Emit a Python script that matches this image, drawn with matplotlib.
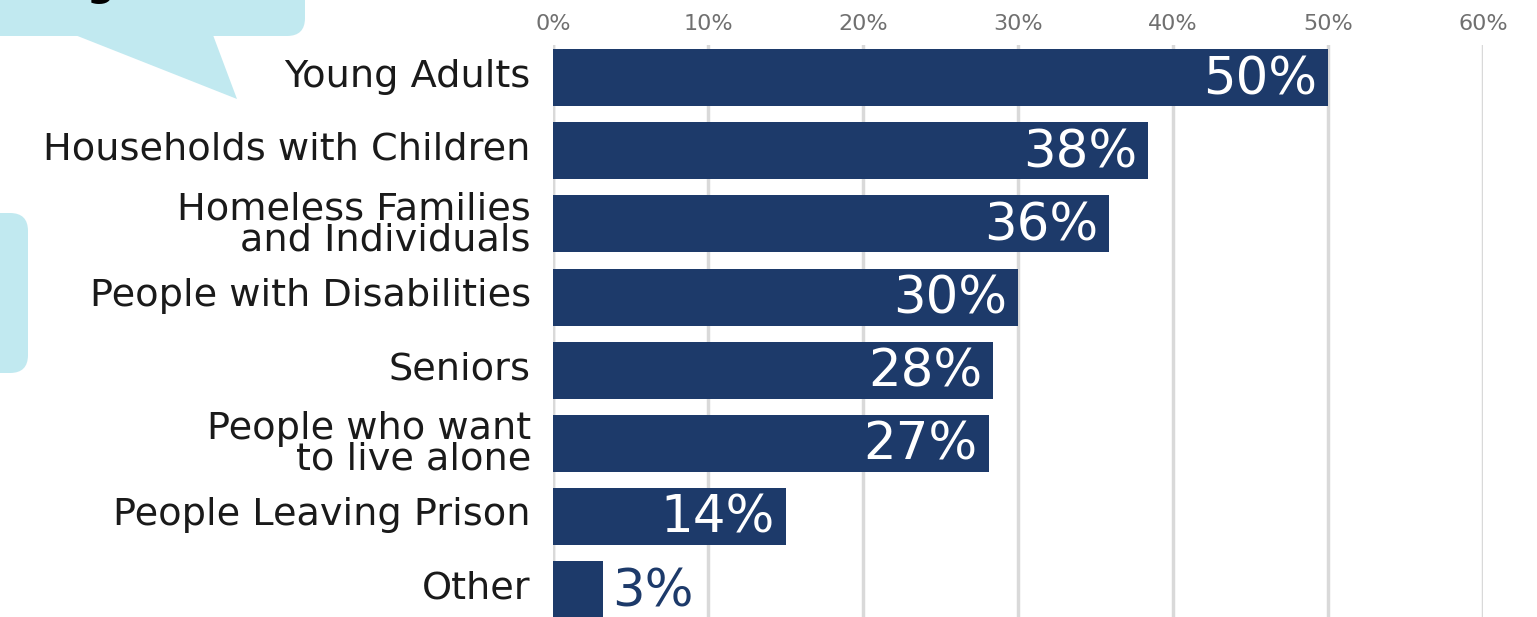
import matplotlib.pyplot as plt
import matplotlib.transforms as mtransforms
from matplotlib.patches import FancyBboxPatch, Polygon

plt.rcParams['font.family'] = ['DejaVu Sans']

categories = ['Young Adults', 'Households with Children', 'Homeless Families\nand Individuals',
              'People with Disabilities', 'Seniors', 'People who want\nto live alone',
              'People Leaving Prison', 'Other']
values = [50.0, 38.4, 35.9, 30.0, 28.4, 28.1, 15.0, 3.2]
value_labels = ['50%', '38%', '36%', '30%', '28%', '27%', '14%', '3%']
ticks = [0, 10, 20, 30, 40, 50, 60]

navy = '#1d3a6a'
bubble = '#c1e9f0'

fig = plt.figure(figsize=(15.37, 6.17), dpi=100)
W, H = 1537, 617

# speech bubbles on the left (cut off in the original)
bg = fig.add_axes([0, 0, 1, 1])
bg.set_xlim(0, W)
bg.set_ylim(H, 0)
bg.axis('off')
bg.add_patch(FancyBboxPatch((-40, -60), 345, 96, boxstyle='round,pad=0,rounding_size=18',
                            fc=bubble, ec='none'))
bg.add_patch(Polygon([(75, 35), (213, 35), (237, 99)], closed=True, fc=bubble, ec='none'))
bg.add_patch(FancyBboxPatch((-40, 213), 68, 160, boxstyle='round,pad=0,rounding_size=18',
                            fc=bubble, ec='none'))
bg.text(100, -4, 'g', fontsize=28, fontweight='bold', color='black', ha='center', va='baseline')

ax = fig.add_axes([553 / W, 0, (1483 - 553) / W, 1 - 45 / H])
y = list(range(len(categories)))
ax.barh(y, values, height=0.78, color=navy, zorder=3)
ax.set_xlim(0, 60)
ax.set_ylim(7.38, -0.45)
ax.set_xticks(ticks)
ax.set_xticklabels([f'{t}%' for t in ticks], fontsize=16, color='#707070')
ax.xaxis.tick_top()
ax.tick_params(axis='x', length=0, pad=8)
ax.set_yticks(y)
ax.set_yticklabels(categories, fontsize=27.5, color='#1a1a1a', linespacing=0.8)
ax.tick_params(axis='y', length=0, pad=16)
# nudge single-line labels up a little
up = mtransforms.ScaledTranslation(0, 5 / 100, fig.dpi_scale_trans)
for lab in ax.get_yticklabels():
    if '\n' not in lab.get_text():
        lab.set_transform(lab.get_transform() + up)
ax.grid(axis='x', color='#d9d9d9', linewidth=2.5, zorder=0)
ax.axvline(0, color='#d9d9d9', linewidth=2.5, zorder=0)
for s in ax.spines.values():
    s.set_visible(False)

for yi, v, lab in zip(y, values, value_labels):
    if v > 10:
        ax.annotate(lab, (v, yi), xytext=(-8, -2), textcoords='offset points', ha='right',
                    va='center', color='white', fontsize=37, zorder=4)
    else:
        ax.annotate(lab, (v, yi), xytext=(7, -2), textcoords='offset points', ha='left',
                    va='center', color=navy, fontsize=37, zorder=4)

fig.savefig('out.png', dpi=100)
